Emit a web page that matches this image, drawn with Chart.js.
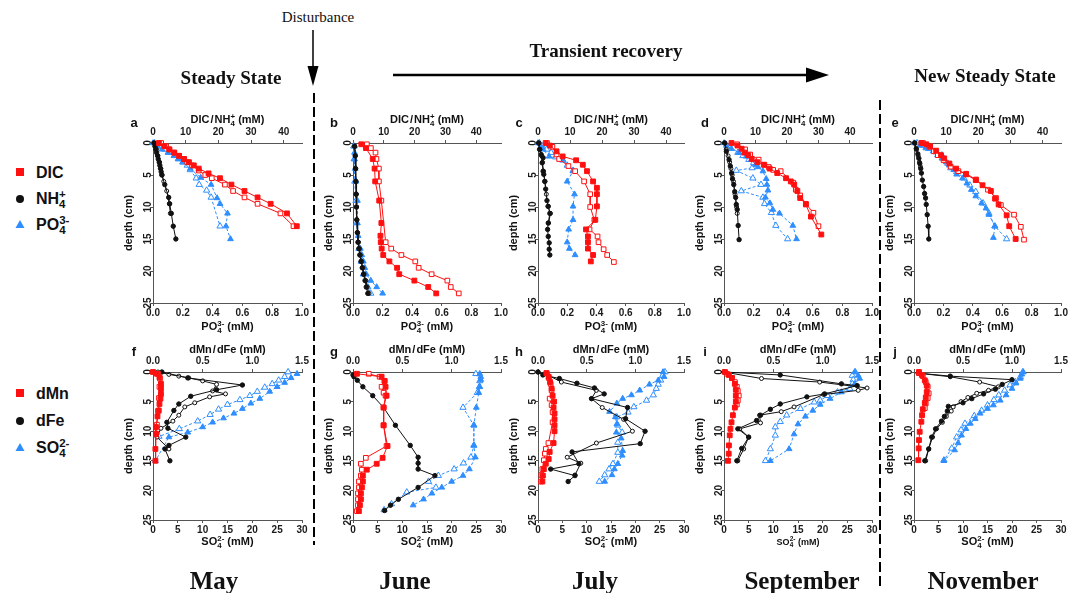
<!DOCTYPE html>
<html>
<head>
<meta charset="utf-8">
<script src="https://cdn.jsdelivr.net/npm/chart.js@4.4.1/dist/chart.umd.min.js"></script>
<style>
  html, body { margin: 0; padding: 0; background: #fff; }
  #fig { position: relative; width: 1072px; height: 593px; overflow: hidden;
         font-family: "Liberation Sans", Arial, sans-serif; color: #111; }
  #fig canvas { position: absolute; }
  #fig svg { position: absolute; left: 0; top: 0; }
  .t { position: absolute; white-space: nowrap; transform: translate(-50%, -50%); line-height: 1; }
  .ax { font-weight: bold; font-size: 11px; }
  .ax-sm { font-weight: bold; font-size: 9px; }
  .lt { font-weight: bold; font-size: 13px; }
  .serif { font-family: "Liberation Serif", "Times New Roman", serif; font-weight: bold; }
  .h1 { font-size: 19px; }
  .h0 { font-size: 15px; font-weight: normal; }
  .mo { font-size: 25px; }
  .ss { display: inline-block; vertical-align: -0.35em; font-size: 0.72em; line-height: 0.9; text-align: left; }
  .ss > span { display: block; }
  .sl { margin: 0 1px; }
  .leg { position: absolute; font-size: 16px; font-weight: bold; transform: translateY(-50%); line-height: 1; white-space: nowrap; }
</style>
</head>
<body>
<div id="fig">
  <svg width="1072" height="593">
    <!-- disturbance arrow -->
    <line x1="313" y1="30" x2="313" y2="70" stroke="#000" stroke-width="1.5"/>
    <polygon points="307.5,66 318.5,66 313,86" fill="#000"/>
    <!-- transient recovery arrow -->
    <line x1="393" y1="75" x2="810" y2="75" stroke="#000" stroke-width="2.5"/>
    <polygon points="806,67.5 806,82.5 829,75" fill="#000"/>
    <!-- dashed separators -->
    <line x1="314" y1="93" x2="314" y2="545" stroke="#000" stroke-width="2" stroke-dasharray="10,4"/>
    <line x1="880" y1="100" x2="880" y2="590" stroke="#000" stroke-width="2" stroke-dasharray="10,4"/>
    <!-- legend symbols -->
    <rect x="16" y="168" width="8" height="8" fill="#ff1010"/>
    <circle cx="20" cy="199" r="4" fill="#111"/>
    <polygon points="15.5,228 24.5,228 20,220" fill="#2e8eff"/>
    <rect x="16" y="389" width="8" height="8" fill="#ff1010"/>
    <circle cx="20" cy="421" r="4" fill="#111"/>
    <polygon points="15.5,451 24.5,451 20,443" fill="#2e8eff"/>
  </svg>
</div>
<script>
// ---- axis ticks / labels ----
const DEPTH_TICKS = [0, 5, 10, 15, 20, 25];
const TOP_TICKS_1 = [0, 10, 20, 30, 40];          // DIC / NH4+ (mM)
const BOT_TICKS_1 = [0, 0.2, 0.4, 0.6, 0.8, 1.0]; // PO4 (mM)
const TOP_TICKS_2 = [0, 0.5, 1.0, 1.5];           // dMn / dFe (mM)
const BOT_TICKS_2 = [0, 5, 10, 15, 20, 25, 30];   // SO4 (mM)
const MONTHS = ["May", "June", "July", "September", "November"];
const LETTERS = ["a", "b", "c", "d", "e", "f", "g", "h", "i", "j"];

// ---- profiles: [depth (cm), value] ; _f = filled symbols, _o = open symbols ----
// a (May)
const A_DIC_f = [[0,1.8],[0.5,3.5],[1,5],[1.5,6.5],[2,8],[2.5,9.5],[3,11],[3.5,12.5],[4,14],[4.75,17],[5.5,20.5],[6.5,24],[7.5,28],[8.5,32],[9.5,36],[11,41],[13,44]];
const A_DIC_o = [[0,2.5],[0.5,4],[1,5],[1.5,6.5],[2,8],[2.5,9.5],[3,10.5],[3.5,12],[4.3,14],[5,16],[5.5,18],[6.5,22],[7.5,24.5],[8.5,28],[9.5,32],[11,39],[13,43]];
const A_NH4_f = [[0,0.3],[0.5,0.6],[1,0.9],[1.5,1.1],[2,1.4],[2.5,1.6],[3,1.9],[3.5,2.1],[4,2.3],[4.5,2.5],[5,2.7],[6.5,3.6],[8.5,4.8],[9.5,5.1],[11,5.6],[13,6.2],[15,7.0]];
const A_NH4_o = [[0,0.4],[1,1],[2,1.5],[3,2],[4,2.4],[5,2.8],[6,3.3],[7.5,4.2],[9.5,5],[11,5.3]];
const A_PO4_f = [[0,0],[0.5,0.03],[1,0.06],[1.5,0.1],[2,0.14],[2.5,0.17],[3,0.2],[4,0.25],[5.4,0.32],[6.5,0.39],[8.6,0.43],[9.5,0.45],[11,0.5],[13,0.49],[15,0.52]];
const A_PO4_o = [[0,0.01],[0.5,0.04],[1,0.08],[1.5,0.11],[2,0.15],[2.5,0.17],[3,0.2],[3.5,0.23],[4.2,0.25],[5.5,0.29],[6.5,0.31],[7.4,0.36],[8.5,0.39],[13,0.45]];
// b (June)
const B_DIC_f = [[0.2,2.7],[0.8,4.2],[2.5,6.4],[4,7],[6,7.2],[9,8.5],[12.5,9.2],[14.5,8.9],[15.5,9],[16.5,9.3],[17.5,9.8],[18.5,11.8],[19.5,14.3],[20.5,15],[21.5,19.9],[22.5,24.4],[23.5,27]];
const B_DIC_o = [[0.2,4.5],[0.8,5.8],[1.5,7.3],[2.5,7.6],[4,8.4],[6,8.4],[9,9.2],[15.5,10.6],[16.5,12.4],[17.5,15.7],[18.5,20.2],[19.5,21.3],[20.5,25.5],[21.5,30.6],[22.5,31.7],[23.5,34.3]];
const B_NH4_f = [[0.5,0.5],[2,0.7],[4,0.8],[6,0.9],[8,1],[10,1.1],[12,1.2],[14,1.4],[15.5,1.6],[16.5,1.9],[17.5,2.2],[18.5,2.6],[19.5,3],[20.5,3.4],[21.5,3.9],[22.5,4.3],[23.5,4.8]];
const B_NH4_o = [[0.5,0.6],[2,0.8],[4,0.9],[6,1],[8,1.1],[10,1.2],[12,1.3],[14,1.5],[15.5,1.8],[16.5,2.1],[17.5,2.4],[18.5,2.8],[19.5,3.2],[20.5,3.6],[21.5,4.2],[22.5,4.6],[23.5,5.2]];
const B_PO4_f = [[0.5,0.01],[1.5,0.01],[2.5,0.01],[4,0.015],[6,0.02],[9,0.03],[12.5,0.03],[14.5,0.035],[16.5,0.05],[17.5,0.06],[18.5,0.07],[19.5,0.08],[20.5,0.09],[21.5,0.12],[22.5,0.16],[23.5,0.2]];
const B_PO4_o = [[0.5,0.005],[2.5,0.008],[6,0.012],[9,0.02],[12.5,0.025],[16.5,0.04],[18.5,0.055],[20.5,0.07],[22.5,0.1],[23.5,0.12]];
// c (July)
const C_DIC_f = [[0,2.4],[0.4,3.7],[1.3,5.8],[2.1,7.7],[2.7,11.9],[3.4,14],[4.4,15.3],[6,17.2],[7,18.4],[8,18.4],[9.9,18.4],[12,17.9],[13.5,15],[14.6,15.6],[15.5,15.6],[16.5,15.6],[17.5,17.2],[18.5,16.5]];
const C_DIC_o = [[0,2.8],[0.6,4.5],[1.8,5.8],[2.5,6.6],[3.6,9.5],[4.4,11.6],[6,14.4],[8,16.3],[10,16.3],[12,17.6],[13.5,16.1],[14.6,18.6],[15.5,18.9],[16.6,20.5],[17.5,21.6],[18.6,23.7]];
const C_NH4_f = [[0,0.2],[1,0.5],[1.8,1],[2.3,1.6],[3.1,1.3],[4.4,1.6],[4.9,1.8],[6,2.1],[7.2,2.4],[9,2.8],[9.9,3.2],[11,3.7],[12.5,3.2],[13.5,3],[14.6,3.2],[15.6,3.5],[16.6,3.5],[17.5,3.7]];
const C_NH4_o = [[0,0.3],[1,0.6],[2,1.1],[3,1.4],[4.4,1.7],[6,2.2],[8,2.6],[9.9,3.1],[11,3.9],[12.5,3.3]];
const C_PO4_f = [[0,0],[0.5,0.02],[1,0.035],[2.1,0.076],[2.6,0.17],[4.4,0.24],[6,0.2],[8,0.25],[9.9,0.24],[12,0.24],[13.5,0.21],[15.5,0.2],[16.5,0.215],[17.5,0.254]];
const C_PO4_o = [[0,0.01],[0.5,0.03],[1,0.06],[1.5,0.09],[2.2,0.12],[2.7,0.17],[3.5,0.2],[4.3,0.24]];
// d (September)
const D_DIC_f = [[0,2.4],[0.4,4.3],[0.9,5.6],[1.5,6.5],[1.9,7.7],[2.5,8.8],[3,10.6],[3.4,12.8],[4,14.5],[4.7,16.9],[5.5,19.7],[6,21.2],[6.5,22.3],[7.5,23.3],[8.6,24.2],[9.6,26],[11.5,27.6],[14.3,30.9]];
const D_DIC_o = [[0.2,4.2],[1,6.7],[1.8,8.3],[2.6,11],[3.4,12.6],[3.75,14.2],[4.2,15.6],[4.4,18],[6.2,22],[7.3,22.8],[8.2,24.2],[9.5,26],[10.9,28.4],[13,30]];
const D_NH4_f = [[0,0.2],[1.3,0.75],[2.6,1.6],[3.6,2],[4.7,2.4],[5.6,2.7],[6.5,3.1],[7.6,3.4],[8.5,3.7],[9.6,3.9],[10.4,4.2],[12.9,4.5],[15.1,4.8]];
const D_NH4_o = [[0,0.3],[1,0.7],[2,1.3],[3,1.8],[4,2.2],[5,2.6],[6,3],[8,3.5],[10,4],[11,4.2]];
const D_PO4_f = [[0,0],[0.4,0.016],[0.9,0.05],[1.5,0.1],[2.1,0.15],[2.6,0.185],[3.4,0.213],[3.75,0.23],[4.4,0.263],[5.6,0.285],[6.5,0.29],[7.4,0.297],[8.5,0.28],[9.4,0.31],[10.4,0.33],[11,0.375],[12.9,0.465],[15,0.49]];
const D_PO4_o = [[0.5,0.038],[1.5,0.094],[2,0.128],[2.6,0.168],[3.1,0.2],[3.9,0.19],[4.3,0.083],[5.5,0.195],[6.5,0.25],[7.5,0.117],[8.5,0.263],[9.5,0.274],[10.9,0.32],[12.9,0.35],[15,0.43]];
// e (November)
const E_DIC_f = [[0,2.3],[0.2,3.8],[0.5,5],[1.2,6.9],[1.9,8.4],[2.4,9.4],[3.2,11],[4,13.1],[4.9,16.2],[5.8,19.2],[6.6,21.3],[7.5,23.9],[8.7,25.2],[9.6,26.3],[11.3,28.8],[13,29.6],[15,31.6]];
const E_DIC_o = [[0,2.8],[0.6,4.8],[1.3,6.2],[1.9,7.4],[2.7,9.2],[3.7,11.4],[4.4,13.8],[4.8,16.2],[5.7,19.3],[7.3,23],[8.6,25.5],[9.7,27],[11.2,31.1],[13.1,33.2],[15.1,34.2]];
const E_NH4_f = [[0,0.2],[0.9,0.7],[1.7,1.2],[2.4,1.5],[3.2,1.8],[4,2.1],[4.7,2.3],[5.8,2.6],[6.8,3],[7.9,3.3],[8.6,3.6],[9.6,3.8],[11.2,4.1],[13,4.4],[15,4.6]];
const E_NH4_o = [[0,0.3],[1,0.8],[2,1.3],[3,1.7],[3.7,2]];
const E_PO4_f = [[0,0],[0.4,0.04],[0.8,0.08],[1.3,0.13],[1.9,0.16],[2.4,0.19],[3,0.22],[3.5,0.24],[4.2,0.27],[4.9,0.29],[5.5,0.33],[6.3,0.36],[7.3,0.39],[8.3,0.42],[9.4,0.46],[10.2,0.49],[11.2,0.51],[13,0.55],[14.8,0.54]];
const E_PO4_o = [[0,0.02],[0.4,0.07],[0.9,0.1],[1.4,0.15],[1.9,0.19],[2.4,0.2],[3.2,0.23],[3.9,0.25],[4.5,0.29],[5.5,0.34],[6.6,0.38],[7.6,0.42],[9.4,0.47],[11,0.51],[13,0.55],[15,0.63]];
// f (May)
const F_MN_f = [[0,0],[0.3,0.04],[0.9,0.065],[2,0.08],[2.8,0.08],[3.7,0.08],[4.5,0.075],[5.4,0.065],[6.5,0.058],[7.5,0.045],[9.3,0.03],[10.5,0.03],[13,0.024],[15,0.024]];
const F_MN_o = [[0.3,0.05],[1.1,0.07],[2.5,0.065],[4.4,0.06],[6.6,0.05],[8.9,0.04],[10.4,0.03]];
const F_FE_f = [[0,0.09],[1,0.35],[2.2,0.9],[3,0.64],[4.1,0.38],[5.4,0.26],[6.5,0.21],[8.5,0.14],[9.5,0.15],[11,0.33],[12.4,0.16],[13,0.12],[15,0.17]];
const F_FE_o = [[0,0.05],[0.4,0.16],[0.7,0.26],[1,0.36],[1.5,0.5],[2.1,0.64],[3.2,0.6],[3.7,0.73],[4.2,0.57],[5.2,0.42],[5.9,0.32],[7.3,0.26],[8.3,0.2],[9.5,0.08],[11,0.04],[13,0.16]];
const F_SO4_f = [[0.3,29],[1,27.8],[1.8,26.5],[2.5,25],[3.3,23.5],[4.5,21.5],[5.3,19.7],[6.2,18],[7,16.3],[7.8,14.2],[8.5,12],[9.3,10],[10.2,7],[11,3.2],[15,0.5]];
const F_SO4_o = [[0,27.2],[0.8,26.5],[1.4,25.3],[2,24],[2.6,22.5],[3.3,21],[4,19.5],[4.7,17.5],[5.5,15],[6.3,13.2],[7.2,11.5],[8.3,9],[9.6,5.3],[10.9,1.2]];
// g (June)
const G_MN_f = [[0.3,0.04],[0.8,0.29],[1.5,0.32],[2.5,0.33],[4,0.34],[6,0.31],[9,0.31],[12.5,0.35],[14.5,0.3],[15.5,0.24],[16.5,0.14],[17.5,0.1],[18.5,0.1],[19.5,0.09],[20.5,0.08],[21.5,0.08],[22.5,0.07],[23.5,0.06]];
const G_MN_o = [[0.3,0.16],[0.8,0.27],[1.5,0.32],[2.5,0.29],[3.5,0.31],[4,0.33],[6,0.31],[9,0.31],[12.5,0.34],[14.5,0.13],[15.5,0.08],[16.5,0.09],[17.5,0.08],[18.5,0.06],[19.5,0.06],[20.5,0.05],[21.5,0.05],[22.5,0.05],[23.5,0.04]];
const G_FE_f = [[0.5,0],[0.8,0.01],[1.4,0.044],[2.5,0.1],[4,0.2],[6,0.31],[9,0.43],[12.4,0.58],[14.4,0.66],[15.4,0.66],[16.4,0.66],[17.5,0.83],[19.5,0.66],[21.5,0.46],[22.5,0.38],[23.4,0.32]];
const G_SO4_f = [[0.3,25.7],[0.8,25.9],[1.3,25.9],[2.5,25.7],[3.5,25.5],[6,25],[9,24.5],[12.4,24.5],[14.4,24.8],[16.4,23.6],[17.5,22.3],[18.5,20],[19.5,18],[20.5,16],[21.5,14.3],[22.5,12.2]];
const G_SO4_o = [[0.3,24.9],[1.5,25.7],[2.5,25.6],[3.5,25.2],[6,22.3],[9,24.5],[12.4,24.5],[14.4,23.9],[15.4,22.4],[16.4,20.5],[17.5,17.3],[18.5,15.3],[19.5,16.8],[20.3,10.9],[22.3,7.8],[23.3,6.3]];
// h (July)
const H_MN_f = [[0.2,0.086],[0.8,0.11],[1.7,0.124],[2.8,0.14],[4,0.15],[5,0.165],[6,0.16],[7,0.17],[8,0.17],[9,0.17],[10,0.17],[12,0.16],[13.5,0.12],[14.7,0.11],[15.5,0.08],[16.4,0.06],[17.5,0.05],[18.5,0.045]];
const H_MN_o = [[0.2,0.09],[1,0.11],[2,0.13],[3.1,0.14],[4.5,0.12],[5.6,0.14],[6.8,0.15],[8.5,0.15],[12,0.107],[13,0.08],[13.8,0.07],[14.9,0.06],[16.4,0.045],[17.4,0.035],[18.5,0.03]];
const H_FE_f = [[0,0],[0.5,0.05],[1.1,0.22],[1.9,0.4],[2.7,0.58],[3.7,0.68],[4.5,0.55],[6,0.92],[7.9,0.9],[10,1.1],[12.1,1.05],[13.5,0.35],[15.5,0.42],[16.4,0.13],[17.5,0.38],[18.5,0.31]];
const H_FE_o = [[0,0],[0.5,0.1],[1.7,0.24],[3.1,0.6],[4.5,0.55],[6,0.66],[8,0.88],[10,0.97],[12,0.6],[14.4,0.3],[15.4,0.44],[17.4,0.38]];
const H_SO4_f = [[0,25.7],[0.8,25.9],[1.4,24.7],[2.1,22.9],[3.1,20.9],[3.9,19.2],[4.5,17.4],[5.3,16.2],[6.7,14.7],[7.6,15.9],[8.8,16.2],[10.2,16.1],[11.2,17.1],[13.3,17.4],[14.1,17.3],[15.5,16.4],[16.4,15.7],[17.4,15.2],[18.5,13.7]];
const H_SO4_o = [[0,26.1],[0.6,25.6],[1.4,25.2],[2.1,24.7],[2.8,24.3],[3.9,23.7],[4.8,22.3],[5.9,19.7],[6.8,18.5],[7.6,16.2],[9,16.4],[10.2,17.3],[11.9,16.4],[13.6,16.4],[15.5,15.4],[16.4,14.6],[17.4,13.7],[18.5,12.6]];
// i (September)
const I_MN_f = [[0,0.01],[0.5,0.05],[1,0.08],[2,0.11],[3,0.12],[4,0.12],[5,0.12],[6,0.11],[7.3,0.09],[8.5,0.076],[9.6,0.065],[10.7,0.058],[12.4,0.05],[13.8,0.048],[15,0.04]];
const I_MN_o = [[0.3,0.03],[1,0.08],[1.7,0.11],[2.5,0.13],[3.2,0.14],[4,0.15],[4.8,0.14],[5.5,0.13]];
const I_FE_f = [[0,0],[0.5,0.57],[2,1.19],[2.3,1.35],[3.7,1.02],[4.2,0.84],[5.4,0.57],[6.3,0.47],[7.3,0.37],[8.2,0.33],[9.6,0.14],[11,0.25],[12.9,0.18],[15,0.13]];
const I_FE_o = [[0,0],[1.1,0.38],[1.7,0.97],[2.7,1.45],[3.1,1.36],[3.8,1.01],[5.9,0.71],[6.7,0.58],[7.3,0.36],[8.6,0.37],[9.6,0.16],[11,0.25],[13,0.2],[15,0.14]];
const I_SO4_f = [[0,26.5],[0.6,27.2],[1.1,27.5],[2,26.5],[3.4,23.8],[4.5,21.5],[5.5,19.5],[6.5,18],[7.5,16.5],[8.8,15],[10.5,14.2],[13,13.2],[15,9.4]];
const I_SO4_o = [[0,26.6],[0.6,26],[1.3,26.2],[2,26],[2.8,25.5],[3.4,23],[4,21],[4.8,19.5],[5.1,18.3],[6.2,15.5],[7.3,12.7],[8.4,11.4],[9.3,10.4],[10.7,10.4],[13,9.4],[15,8.4]];
// j (November)
const J_MN_f = [[0,0.05],[0.5,0.08],[1.4,0.11],[2.3,0.13],[3.4,0.13],[4.3,0.12],[5.2,0.11],[6.3,0.09],[7.3,0.082],[8.4,0.075],[10.1,0.058],[11.5,0.051],[12.9,0.048],[14.9,0.044]];
const J_MN_o = [[0.2,0.05],[0.7,0.09],[1.7,0.12],[2.5,0.14],[3.6,0.15],[4.4,0.14],[5.3,0.12],[6.1,0.11]];
const J_FE_f = [[0.2,0.05],[0.7,0.37],[1.3,1.0],[2.1,0.9],[2.9,0.83],[3.7,0.71],[4.5,0.59],[5.2,0.5],[5.8,0.35],[6.6,0.34],[7.5,0.31],[8.3,0.28],[9.6,0.22],[11,0.18],[13,0.15],[15,0.11]];
const J_FE_o = [[0.2,0.04],[0.8,0.37],[1.7,0.67],[2.5,0.86],[3.1,0.76],[3.6,0.64],[4.3,0.55],[5,0.48],[5.9,0.4],[6.6,0.38],[7.5,0.33],[8.5,0.29],[9.6,0.23],[11,0.19],[13,0.15],[15,0.12]];
const J_SO4_f = [[0,22.3],[0.4,22],[1.1,21.7],[1.9,20.8],[2.8,20],[3.9,18.8],[4.8,17.6],[5.6,16.2],[6.2,15],[7,13.5],[7.9,12.5],[8.7,11.5],[9.6,10.6],[10.7,9.7],[12,9],[13.2,8.3],[15,6.1]];
const J_SO4_o = [[0,22.2],[0.8,21.7],[1.7,20.7],[2.2,19.6],[3.1,18.5],[3.9,17.3],[4.7,16.3],[5.6,15],[6.5,13.8],[7.4,12.3],[8.7,10.4],[9.8,9.6],[11,8.7],[12.9,7.7],[14.9,6.1]];

// [points, colour key, filled?, axis ('t' top / 'b' bottom)]
const PANELS = [
  [[A_DIC_f,"r",1,"t"],[A_DIC_o,"r",0,"t"],[A_NH4_f,"k",1,"t"],[A_NH4_o,"k",0,"t"],[A_PO4_f,"b",1,"b"],[A_PO4_o,"b",0,"b"]],
  [[B_DIC_f,"r",1,"t"],[B_DIC_o,"r",0,"t"],[B_NH4_f,"k",1,"t"],[B_NH4_o,"k",0,"t"],[B_PO4_f,"b",1,"b"],[B_PO4_o,"b",0,"b"]],
  [[C_DIC_f,"r",1,"t"],[C_DIC_o,"r",0,"t"],[C_NH4_f,"k",1,"t"],[C_NH4_o,"k",0,"t"],[C_PO4_f,"b",1,"b"],[C_PO4_o,"b",0,"b"]],
  [[D_DIC_f,"r",1,"t"],[D_DIC_o,"r",0,"t"],[D_NH4_f,"k",1,"t"],[D_NH4_o,"k",0,"t"],[D_PO4_f,"b",1,"b"],[D_PO4_o,"b",0,"b"]],
  [[E_DIC_f,"r",1,"t"],[E_DIC_o,"r",0,"t"],[E_NH4_f,"k",1,"t"],[E_NH4_o,"k",0,"t"],[E_PO4_f,"b",1,"b"],[E_PO4_o,"b",0,"b"]],
  [[F_MN_f,"r",1,"t"],[F_MN_o,"r",0,"t"],[F_FE_f,"k",1,"t"],[F_FE_o,"k",0,"t"],[F_SO4_f,"b",1,"b"],[F_SO4_o,"b",0,"b"]],
  [[G_MN_f,"r",1,"t"],[G_MN_o,"r",0,"t"],[G_FE_f,"k",1,"t"],[G_SO4_f,"b",1,"b"],[G_SO4_o,"b",0,"b"]],
  [[H_MN_f,"r",1,"t"],[H_MN_o,"r",0,"t"],[H_FE_f,"k",1,"t"],[H_FE_o,"k",0,"t"],[H_SO4_f,"b",1,"b"],[H_SO4_o,"b",0,"b"]],
  [[I_MN_f,"r",1,"t"],[I_MN_o,"r",0,"t"],[I_FE_f,"k",1,"t"],[I_FE_o,"k",0,"t"],[I_SO4_f,"b",1,"b"],[I_SO4_o,"b",0,"b"]],
  [[J_MN_f,"r",1,"t"],[J_MN_o,"r",0,"t"],[J_FE_f,"k",1,"t"],[J_FE_o,"k",0,"t"],[J_SO4_f,"b",1,"b"],[J_SO4_o,"b",0,"b"]],
];

// ---- layout ----
const RED = "#ff1010", BLACK = "#111111", BLUE = "#2e8eff", AXIS = "#555";
const COL_X = [153, 353, 538, 724, 914], COL_W = [149, 148, 146, 148, 147];
const ROW_Y = [143, 372], ROW_H = [160, 148];
const TOP_MAX_1 = [45.6, 48, 45.6, 47, 45.7];
const PADL = 30, PADT = 25, PADB = 22, PADR = 14;
const FONT = "'Liberation Sans', Arial, sans-serif";

const STYLE = {
  r: { color: RED, style: "rect", rf: 3.4, ro: 3.3, dash: [] },
  k: { color: BLACK, style: "circle", rf: 2.2, ro: 2.0, dash: [] },
  b: { color: BLUE, style: "triangle", rf: 3.3, ro: 3.6, dash: [3, 2] },
};

const fig = document.getElementById("fig");

function text(html, x, y, cls, rot) {
  const el = document.createElement("div");
  el.className = "t " + cls;
  el.innerHTML = html;
  el.style.left = x + "px";
  el.style.top = y + "px";
  if (rot) el.style.transform = "translate(-50%,-50%) rotate(-90deg)";
  fig.appendChild(el);
}

function dataset([pts, key, filled, axis]) {
  const s = STYLE[key];
  return {
    data: pts.map(([d, v]) => ({ x: v, y: d })),
    xAxisID: axis === "t" ? "xt" : "xb", yAxisID: "y",
    showLine: true, borderColor: s.color, borderWidth: 1, borderDash: s.dash,
    pointStyle: s.style, pointRadius: filled ? s.rf : s.ro, pointHoverRadius: 0,
    pointBackgroundColor: filled ? s.color : "#fff",
    pointBorderColor: s.color, pointBorderWidth: 1, clip: false,
  };
}

const tickFont = { family: FONT, size: 10, weight: "bold" };
const gridOpts = { drawOnChartArea: false, drawTicks: true, tickLength: 3, color: AXIS };

function xScale(pos, max, ticks, fmt, h) {
  return {
    type: "linear", axis: "x", position: pos, min: 0, max,
    afterBuildTicks: (s) => { s.ticks = ticks.map((v) => ({ value: v })); },
    afterFit: (s) => { s.height = h; },
    grid: gridOpts, border: { display: true, color: AXIS, width: 1 },
    ticks: { font: tickFont, color: "#1a1a1a", maxRotation: 0, autoSkip: false,
             padding: pos === "top" ? 2 : 1, callback: fmt },
  };
}

PANELS.forEach((sets, i) => {
  const row = i < 5 ? 0 : 1, col = i % 5;
  const L = COL_X[col], W = COL_W[col], T = ROW_Y[row], H = ROW_H[row];
  const cv = document.createElement("canvas");
  cv.width = PADL + W + PADR;
  cv.height = PADT + H + PADB;
  cv.style.left = (L - PADL) + "px";
  cv.style.top = (T - PADT) + "px";
  fig.appendChild(cv);

  const topMax = row === 0 ? TOP_MAX_1[col] : 1.5;
  const scales = {
    xt: xScale("top", topMax, row === 0 ? TOP_TICKS_1 : TOP_TICKS_2,
               row === 0 ? (v) => String(v) : (v) => v.toFixed(1), PADT),
    xb: xScale("bottom", row === 0 ? 1.0 : 30, row === 0 ? BOT_TICKS_1 : BOT_TICKS_2,
               row === 0 ? (v) => v.toFixed(1) : (v) => String(v), PADB),
    y: {
      type: "linear", axis: "y", position: "left", reverse: true, min: 0, max: 25,
      afterBuildTicks: (s) => { s.ticks = DEPTH_TICKS.map((v) => ({ value: v })); },
      afterFit: (s) => { s.width = PADL; },
      grid: { ...gridOpts, tickLength: 2 }, border: { display: true, color: AXIS, width: 1 },
      ticks: { font: tickFont, color: "#1a1a1a", minRotation: 90, maxRotation: 90,
               crossAlign: "center", padding: -3, autoSkip: false },
    },
  };

  new Chart(cv, {
    type: "scatter",
    data: { datasets: sets.map(dataset) },
    options: {
      responsive: false, animation: false, devicePixelRatio: 1,
      layout: { autoPadding: false, padding: { left: 0, top: 0, bottom: 0, right: PADR } },
      plugins: { legend: { display: false }, tooltip: { enabled: false } },
      events: [],
      scales,
    },
  });

  // axis titles and panel letter
  const cx = L + W / 2;
  const topTitle = row === 0
    ? 'DIC<span class="sl">/</span>NH<span class="ss"><span>+</span><span>4</span></span> (mM)'
    : 'dMn<span class="sl">/</span>dFe (mM)';
  const botTitle = row === 0
    ? 'PO<span class="ss"><span>3-</span><span>4</span></span> (mM)'
    : 'SO<span class="ss"><span>2-</span><span>4</span></span> (mM)';
  text(topTitle, cx, T - 23, "ax");
  text(botTitle, cx, T + H + (row === 0 ? 24 : 22), i === 8 ? "ax-sm" : "ax");
  text("depth (cm)", L - 25, T + H / 2, "ax", true);
  text(LETTERS[i], L - 19, T - 21, "lt");
});

// month labels
const MONTH_X = [214, 405, 595, 802, 983];
MONTHS.forEach((m, k) => text(m, MONTH_X[k], 580, "serif mo"));

// header annotations
text("Disturbance", 318, 17, "serif h0");
text("Steady State", 231, 77, "serif h1");
text("Transient recovery", 606, 50, "serif h1");
text("New Steady State", 985, 75, "serif h1");

// legends
function leg(html, y) {
  const el = document.createElement("div");
  el.className = "leg";
  el.innerHTML = html;
  el.style.left = "36px";
  el.style.top = y + "px";
  fig.appendChild(el);
}
leg("DIC", 173);
leg('NH<span class="ss"><span>+</span><span>4</span></span>', 199);
leg('PO<span class="ss"><span>3-</span><span>4</span></span>', 225);
leg("dMn", 394);
leg("dFe", 421);
leg('SO<span class="ss"><span>2-</span><span>4</span></span>', 448);
</script>
</body>
</html>
